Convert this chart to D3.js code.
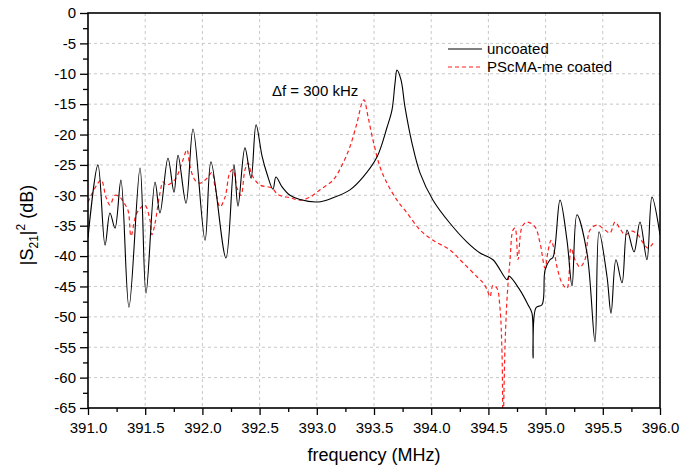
<!DOCTYPE html>
<html>
<head>
<meta charset="utf-8">
<script src="https://cdn.jsdelivr.net/npm/d3@7"></script>
<style>
  body { margin: 0; background: #fff; }
  text { font-family: Arial, "Liberation Sans", sans-serif; fill: #000; }
</style>
</head>
<body>
<div id="chart"></div>
<script>
// uncoated resonator (black solid)
var uncoatedFreq = [391.000, 391.087, 391.149, 391.192, 391.236, 391.288, 391.358, 391.455, 391.507, 391.586,
  391.629, 391.699, 391.752, 391.787, 391.857, 391.918, 392.023, 392.075, 392.206, 392.276,
  392.311, 392.372, 392.425, 392.469, 392.521, 392.565, 392.617, 392.643, 392.696, 392.766,
  392.853, 393.010, 393.142, 393.290, 393.404, 393.526, 393.614, 393.657, 393.684, 393.701,
  393.736, 393.771, 393.832, 393.902, 394.016, 394.164, 394.313, 394.427, 394.540, 394.663,
  394.680, 394.776, 394.846, 394.881, 394.890, 394.916, 394.969, 394.995, 395.038, 395.065,
  395.126, 395.187, 395.231, 395.274, 395.362, 395.432, 395.467, 395.537, 395.572, 395.615,
  395.668, 395.712, 395.773, 395.825, 395.886, 395.930, 396.000];
var uncoatedDb = [-37.0, -25.0, -38.2, -32.9, -35.4, -27.5, -48.4, -25.5, -46.1, -27.8,
  -32.9, -23.9, -29.5, -23.4, -31.3, -19.1, -37.4, -24.5, -40.3, -25.0,
  -31.8, -22.2, -27.2, -18.4, -23.5, -26.5, -29.0, -27.0, -28.6, -30.0,
  -30.7, -31.1, -30.4, -29.1, -27.0, -23.7, -18.8, -16.0, -11.5, -9.4,
  -11.0, -15.5, -21.4, -26.3, -30.8, -34.6, -37.7, -39.5, -40.6, -43.9,
  -43.3, -45.6, -48.0, -49.4, -56.8, -48.5, -48.0, -42.3, -40.6, -40.2,
  -30.8, -37.4, -44.9, -33.2, -39.5, -54.1, -36.0, -43.4, -49.4, -40.6,
  -44.4, -35.7, -39.3, -34.4, -40.6, -30.3, -36.5];

// PScMA-me coated resonator (red dashed)
var coatedFreq = [391.000, 391.114, 391.157, 391.192, 391.236, 391.280, 391.306, 391.350, 391.376, 391.420,
  391.463, 391.498, 391.542, 391.559, 391.586, 391.629, 391.656, 391.682, 391.726, 391.769,
  391.830, 391.865, 391.892, 391.935, 391.979, 392.040, 392.084, 392.110, 392.154, 392.198,
  392.241, 392.268, 392.302, 392.337, 392.372, 392.399, 392.434, 392.503, 392.608, 392.661,
  392.766, 392.853, 392.941, 393.028, 393.142, 393.229, 393.290, 393.351, 393.395, 393.413,
  393.448, 393.491, 393.552, 393.614, 393.701, 393.789, 393.902, 394.016, 394.164, 394.278,
  394.400, 394.453, 394.488, 394.514, 394.540, 394.575, 394.601, 394.619, 394.628, 394.645,
  394.663, 394.689, 394.715, 394.733, 394.759, 394.794, 394.837, 394.907, 394.951, 394.995,
  395.021, 395.047, 395.065, 395.100, 395.143, 395.187, 395.222, 395.257, 395.301, 395.344,
  395.388, 395.449, 395.519, 395.563, 395.607, 395.651, 395.694, 395.755, 395.808, 395.851,
  395.895, 395.939];
var coatedDb = [-31.1, -27.5, -30.3, -31.6, -30.0, -30.3, -31.0, -32.5, -36.7, -33.2,
  -32.0, -31.6, -34.1, -36.5, -34.6, -29.6, -27.8, -28.3, -28.0, -27.2,
  -24.2, -22.5, -25.3, -27.5, -28.0, -27.2, -26.2, -28.6, -31.9, -30.3,
  -26.2, -25.8, -28.8, -30.0, -25.8, -24.7, -26.7, -28.3, -28.8, -29.9,
  -30.4, -30.8, -30.3, -29.1, -27.5, -24.7, -22.0, -18.1, -14.8, -14.3,
  -17.1, -20.9, -25.3, -28.0, -30.8, -32.9, -35.7, -37.4, -39.0, -41.1,
  -43.4, -44.4, -45.5, -46.7, -44.8, -45.3, -48.5, -56.0, -68.0, -55.0,
  -47.0, -40.6, -35.7, -35.4, -40.6, -35.2, -34.4, -35.2, -37.8, -42.0,
  -39.2, -37.4, -38.2, -41.8, -44.4, -45.3, -38.7, -40.6, -41.8, -40.6,
  -35.7, -34.9, -35.7, -36.2, -34.4, -35.5, -36.5, -35.9, -36.5, -37.8,
  -38.7, -37.9];

var xTicks = [391.0, 391.5, 392.0, 392.5, 393.0, 393.5, 394.0, 394.5, 395.0, 395.5, 396.0];
var xMinor = [391.25, 391.75, 392.25, 392.75, 393.25, 393.75, 394.25, 394.75, 395.25, 395.75];
var yTicks = [0, -5, -10, -15, -20, -25, -30, -35, -40, -45, -50, -55, -60, -65];
var yMinor = [-2.5, -7.5, -12.5, -17.5, -22.5, -27.5, -32.5, -37.5, -42.5, -47.5, -52.5, -57.5, -62.5];

var seriesNames = ["uncoated", "PScMA-me coated"];

var margin = { left: 88, right: 21, top: 13, bottom: 65 };
var width = 681 - margin.left - margin.right;
var height = 473 - margin.top - margin.bottom;

var svg = d3.select('#chart')
  .append('svg')
    .attr('width', 681)
    .attr('height', 473);

svg.append('rect')
  .attr('width', 681).attr('height', 473).attr('fill', '#fff');

var g = svg.append('g')
  .attr('transform', 'translate(' + margin.left + ',' + margin.top + ')');

var x = d3.scaleLinear().domain([391, 396]).range([0, width]);
var y = d3.scaleLinear().domain([-65, 0]).range([height, 0]);

// grid
g.selectAll('.vgrid')
  .data(xTicks.slice(1, -1))
  .enter().append('line')
    .attr('x1', function(d) { return x(d); })
    .attr('x2', function(d) { return x(d); })
    .attr('y1', 0).attr('y2', height)
    .attr('stroke', '#c8c8c8').attr('stroke-dasharray', '3,3').attr('stroke-width', 1);

g.selectAll('.hgrid')
  .data(yTicks.slice(1, -1))
  .enter().append('line')
    .attr('x1', 0).attr('x2', width)
    .attr('y1', function(d) { return y(d); })
    .attr('y2', function(d) { return y(d); })
    .attr('stroke', '#c8c8c8').attr('stroke-dasharray', '3,3').attr('stroke-width', 1);

// curves
svg.append('defs').append('clipPath').attr('id', 'clip')
  .append('rect').attr('width', width).attr('height', height);

var line = d3.line()
  .x(function(d) { return x(d[0]); })
  .y(function(d) { return y(d[1]); })
  .curve(d3.curveCatmullRom.alpha(0.5));

var plot = g.append('g').attr('clip-path', 'url(#clip)');

plot.append('path')
  .datum(d3.zip(coatedFreq, coatedDb))
  .attr('d', line)
  .attr('fill', 'none')
  .attr('stroke', '#ff2020')
  .attr('stroke-width', 1.2)
  .attr('stroke-dasharray', '4,3');

plot.append('path')
  .datum(d3.zip(uncoatedFreq, uncoatedDb))
  .attr('d', line)
  .attr('fill', 'none')
  .attr('stroke', '#000')
  .attr('stroke-width', 1.1);

// axes
g.append('g')
  .attr('transform', 'translate(0,' + height + ')')
  .call(d3.axisBottom(x).tickValues(xTicks).tickFormat(d3.format('.1f')).tickSize(7).tickPadding(7));
g.append('g')
  .attr('transform', 'translate(0,' + height + ')')
  .call(d3.axisBottom(x).tickValues(xMinor).tickFormat('').tickSize(4));

g.append('g')
  .call(d3.axisLeft(y).tickValues(yTicks).tickFormat(function(d) { return String(d); }).tickSize(8).tickPadding(4));
g.append('g')
  .call(d3.axisLeft(y).tickValues(yMinor).tickFormat('').tickSize(5));

g.selectAll('.domain').remove();
g.selectAll('.tick line').attr('stroke', '#000').attr('stroke-width', 1.3);
g.selectAll('.tick text').attr('font-size', 15).attr('fill', '#000')
  .style('font-family', 'Arial, "Liberation Sans", sans-serif');

// frame
g.append('rect')
  .attr('width', width).attr('height', height)
  .attr('fill', 'none').attr('stroke', '#000').attr('stroke-width', 1.6);

// axis titles
svg.append('text')
  .attr('x', margin.left + width / 2)
  .attr('y', 461)
  .attr('text-anchor', 'middle')
  .attr('font-size', 18)
  .text('frequency (MHz)');

var yt = svg.append('text')
  .attr('transform', 'translate(33,225) rotate(-90)')
  .attr('text-anchor', 'middle')
  .attr('font-size', 18);
yt.append('tspan').text('|S');
yt.append('tspan').attr('font-size', 12).attr('dy', 5).text('21');
yt.append('tspan').attr('dy', -5).text('|');
yt.append('tspan').attr('font-size', 12).attr('dy', -8).text('2');
yt.append('tspan').attr('dy', 8).text(' (dB)');

// annotation
svg.append('text')
  .attr('x', 272).attr('y', 96)
  .attr('font-size', 15)
  .text('\u0394f = 300 kHz');

// legend
var legend = svg.append('g');
var legendY = [49, 67];
var legendStroke = ['#000', '#ff2020'];
var legendDash = [null, '4,3'];
seriesNames.forEach(function(name, i) {
  legend.append('line')
    .attr('x1', 448).attr('x2', 482)
    .attr('y1', legendY[i]).attr('y2', legendY[i])
    .attr('stroke', legendStroke[i])
    .attr('stroke-width', 1.2)
    .attr('stroke-dasharray', legendDash[i]);
  legend.append('text')
    .attr('x', 487).attr('y', legendY[i] + 5)
    .attr('font-size', 15)
    .text(name);
});
</script>
</body>
</html>
